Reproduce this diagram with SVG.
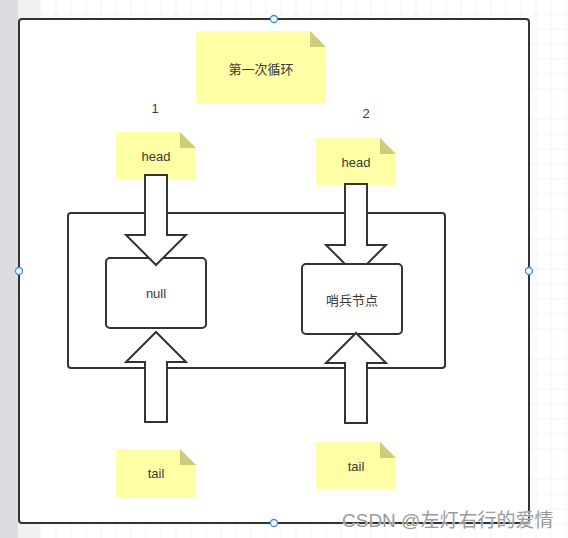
<svg xmlns="http://www.w3.org/2000/svg" width="568" height="538" viewBox="0 0 568 538">
<defs>
<style>
.line{fill:#fff;stroke:#333;stroke-width:2;stroke-linejoin:miter}
.note{fill:#ffffa6}
.fold{fill:#cccc7c}
.t{font-family:"Liberation Sans","Noto Sans CJK SC",sans-serif;font-size:13px;fill:#3a3a3a;text-anchor:middle;dominant-baseline:central}
.h{fill:#fff;stroke:#3b8ce8;stroke-width:1.3}
.wm{font-family:"Liberation Sans","Noto Sans CJK SC",sans-serif;font-size:19px;fill:#9a9a9a;stroke:#fff;stroke-width:0.6;paint-order:stroke}
</style>
<pattern id="grid" patternUnits="userSpaceOnUse" x="40.5" y="13.5" width="15" height="15">
<path d="M0 0V15M0 0H15" fill="none" stroke="#eaeaea" stroke-width="1"/>
</pattern>
</defs>
<rect width="568" height="538" fill="#fff"/>
<rect width="568" height="538" fill="url(#grid)"/>
<rect x="18" y="0" width="22" height="538" fill="#f1f1f2"/>
<rect x="0" y="0" width="18" height="538" fill="#dcdde0"/>

<g id="frame">
<rect class="line" x="19" y="19" width="510" height="504" rx="3" stroke-width="2.2"/>
</g>

<g id="title-note">
<path class="note" d="M196 31H310L326 47V103H196Z"/>
<path class="fold" d="M310 31V47H326Z"/>
<text class="t" x="261" y="69">第一次循环</text>
</g>

<g id="label-1"><text class="t" x="155" y="108">1</text></g>
<g id="label-2"><text class="t" x="366" y="113">2</text></g>

<g id="head-1">
<path class="note" d="M116 132H180L196 148V180H116Z"/>
<path class="fold" d="M180 132V148H196Z"/>
<text class="t" x="156" y="156">head</text>
</g>
<g id="head-2">
<path class="note" d="M316 138H380L396 154V185H316Z"/>
<path class="fold" d="M380 138V154H396Z"/>
<text class="t" x="356" y="162">head</text>
</g>

<g id="container">
<rect class="line" x="68" y="213" width="377" height="155" rx="3"/>
</g>

<g id="connectors">
<polygon id="arrow-head2" class="line" points="345,184 367,184 367,245 386,245 356,275 326,245 345,245"/>
</g>

<g id="node-null">
<rect class="line" x="106" y="258" width="100" height="70" rx="4"/>
<text class="t" x="156" y="293">null</text>
</g>
<g id="node-sentinel">
<rect class="line" x="302" y="264" width="100" height="70" rx="4"/>
<text class="t" x="352" y="300">哨兵节点</text>
</g>

<g id="connectors-2">
<polygon id="arrow-head1" class="line" points="145,175 167,175 167,235 186,235 156,265 126,235 145,235"/>
<polygon id="arrow-tail1" class="line" points="145,422 167,422 167,362 186,362 156,332 126,362 145,362"/>
<polygon id="arrow-tail2" class="line" points="345,423 367,423 367,363 386,363 356,333 326,363 345,363"/>
</g>

<g id="tail-1">
<path class="note" d="M116 449H180L196 465V497H116Z"/>
<path class="fold" d="M180 449V465H196Z"/>
<text class="t" x="156" y="473">tail</text>
</g>
<g id="tail-2">
<path class="note" d="M316 442H380L396 458V489H316Z"/>
<path class="fold" d="M380 442V458H396Z"/>
<text class="t" x="356" y="466">tail</text>
</g>

<g id="handles">
<circle class="h" cx="274" cy="19" r="3.5"/>
<circle class="h" cx="19" cy="271" r="3.5"/>
<circle class="h" cx="529" cy="271" r="3.5"/>
<circle class="h" cx="274" cy="523" r="3.5"/>
</g>

<text class="wm" x="342" y="527">CSDN @左灯右行的爱情</text>
</svg>
